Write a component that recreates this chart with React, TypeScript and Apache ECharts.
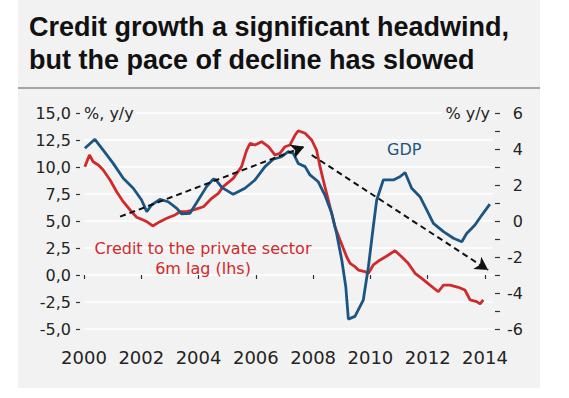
import React, { useEffect, useRef } from "react";
import * as echarts from "echarts";

const titleLines = ["Credit growth a significant headwind,", "but the pace of decline has slowed"];
const yearTicks = [2000, 2002, 2004, 2006, 2008, 2010, 2012, 2014];

const creditYears = [
  2000.03, 2000.19, 2000.32, 2000.5, 2000.67, 2000.91, 2001.14, 2001.37, 2001.61, 2001.84,
  2002.07, 2002.19, 2002.4, 2002.65, 2002.89, 2003.18, 2003.35, 2003.59, 2003.88, 2004.17,
  2004.46, 2004.69, 2004.86, 2005.21, 2005.5, 2005.68, 2005.8, 2005.97, 2006.2, 2006.44,
  2006.67, 2006.84, 2007.02, 2007.19, 2007.37, 2007.48, 2007.72, 2007.95, 2008.12, 2008.24,
  2008.41, 2008.59, 2008.76, 2008.94, 2009.17, 2009.29, 2009.46, 2009.58, 2009.81, 2009.93,
  2010.1, 2010.34, 2010.63, 2010.86, 2011.09, 2011.32, 2011.56, 2011.79, 2012.08, 2012.37,
  2012.55, 2012.78, 2013.07, 2013.3, 2013.48, 2013.71, 2013.83, 2013.94,
];
const creditValues = [
  10.03, 11.11, 10.49, 10.19, 9.72, 8.8, 7.71, 6.79, 6.02, 5.34,
  5.09, 4.94, 4.54, 4.94, 5.25, 5.56, 5.86, 5.86, 6.08, 6.32,
  7.1, 7.56, 8.18, 8.95, 10.03, 11.57, 12.19, 12.04, 12.34, 11.88,
  11.11, 11.27, 11.88, 12.04, 12.96, 13.36, 13.12, 12.5, 11.57, 10.03,
  8.18, 6.32, 4.47, 3.24, 1.69, 1.08, 0.77, 0.46, 0.31, 0.16,
  0.93, 1.39, 1.85, 2.25, 1.69, 1.08, 0.16, -0.31, -0.93, -1.55,
  -0.93, -0.93, -1.14, -1.39, -2.31, -2.47, -2.68, -2.31,
];

const gdpYears = [
  2000.03, 2000.38, 2000.67, 2001.02, 2001.37, 2001.72, 2002.01, 2002.19, 2002.36, 2002.65,
  2002.94, 2003.24, 2003.41, 2003.7, 2003.99, 2004.28, 2004.51, 2004.6, 2004.81, 2005.21,
  2005.62, 2005.97, 2006.32, 2006.61, 2006.9, 2007.13, 2007.31, 2007.48, 2007.72, 2007.89,
  2008.18, 2008.41, 2008.65, 2008.82, 2009.0, 2009.14, 2009.23, 2009.46, 2009.75, 2009.93,
  2010.1, 2010.22, 2010.45, 2010.8, 2011.03, 2011.21, 2011.44, 2011.73, 2011.97, 2012.2,
  2012.55, 2012.9, 2013.19, 2013.36, 2013.65, 2013.89, 2014.17,
];
const gdpValues = [
  4.04, 4.54, 3.94, 3.2, 2.37, 1.82, 1.17, 0.52, 0.89, 1.2,
  1.07, 0.7, 0.39, 0.43, 1.17, 1.91, 2.32, 2.3, 1.87, 1.48,
  1.82, 2.28, 3.02, 3.43, 3.57, 3.85, 3.76, 3.2, 3.02, 2.56,
  2.18, 1.44, 0.43, -0.69, -2.17, -3.65, -5.45, -5.3, -4.4, -2.54,
  -0.32, 1.17, 2.28, 2.28, 2.46, 2.69, 1.82, 1.35, 0.61, -0.13,
  -0.59, -0.96, -1.15, -0.69, -0.22, 0.33, 0.94,
];

// trend arrows in data units (left axis)
const trendUp = [[2001.26, 5.4], [2007.69, 11.88]];
const trendDown = [[2007.95, 11.11], [2014.11, 0.46]];

const RED = "#cf2a2c";
const BLUE = "#1c5582";
const BG = "#f2f2f2";
const AXIS_TXT = "#242424";
const FONT = "DejaVu Sans";

export default function App() {
  const ref = useRef<HTMLDivElement>(null);
  useEffect(() => {
    document.body.style.margin = "0";
    const chart = echarts.init(ref.current!, null, { renderer: "svg" });
    const credit = creditYears.map((x, i) => [x, creditValues[i]]);
    const gdp = gdpYears.map((x, i) => [x, gdpValues[i]]);
    chart.setOption({
      animation: false,
      backgroundColor: "#ffffff",
      title: {
        text: titleLines.join("\n"),
        left: 24,
        top: 5,
        textStyle: {
          fontFamily: "Liberation Sans",
          fontWeight: "bold",
          fontSize: 27,
          lineHeight: 33,
          color: "#111111",
        },
      },
      graphic: [
        { type: "rect", z: -10, shape: { x: 18, y: 0, width: 522, height: 388 }, style: { fill: BG } },
        { type: "line", z: 1, shape: { x1: 18, y1: 88, x2: 540, y2: 88 }, style: { stroke: "#8c8c8c", lineWidth: 1.5 } },
        { type: "rect", z: 20, shape: { x: 82, y: 104, width: 54, height: 18 }, style: { fill: BG } },
        { type: "text", z: 21, x: 84, y: 113, style: { text: "%, y/y", fontFamily: FONT, fontSize: 16, fill: AXIS_TXT, verticalAlign: "middle", align: "left" } },
        { type: "rect", z: 20, shape: { x: 442, y: 104, width: 51, height: 18 }, style: { fill: BG } },
        { type: "text", z: 21, x: 490, y: 113, style: { text: "% y/y", fontFamily: FONT, fontSize: 16, fill: AXIS_TXT, verticalAlign: "middle", align: "right" } },
        { type: "text", z: 21, x: 387, y: 149, style: { text: "GDP", fontFamily: FONT, fontSize: 16, fill: BLUE, verticalAlign: "middle", align: "left" } },
        { type: "text", z: 21, x: 203, y: 258, style: { text: "Credit to the private sector\n6m lag (lhs)", fontFamily: FONT, fontSize: 16, lineHeight: 20, fill: RED, verticalAlign: "middle", align: "center" } },
      ],
      grid: { left: 84, right: 76, top: 113, bottom: 69 },
      xAxis: {
        type: "value",
        min: 2000,
        max: 2014.28,
        offset: 12,
        axisLine: { show: false },
        axisTick: { show: true, length: 4, customValues: yearTicks, lineStyle: { color: "#333", width: 1.2 } },
        axisLabel: { customValues: yearTicks, formatter: (v: number) => String(v), fontFamily: FONT, fontSize: 18, color: AXIS_TXT, margin: 7 },
        splitLine: { show: false },
      },
      yAxis: [
        {
          type: "value",
          min: -5,
          max: 15,
          interval: 2.5,
          offset: 4,
          axisLine: { show: false },
          axisTick: { show: true, length: 4, lineStyle: { color: "#333", width: 1.2 } },
          axisLabel: {
            formatter: (v: number) => v.toFixed(1).replace(".", ","),
            fontFamily: FONT,
            fontSize: 16,
            color: AXIS_TXT,
            margin: 9,
          },
          splitLine: { show: true, lineStyle: { color: "#ffffff", width: 1.5 } },
        },
        {
          type: "value",
          position: "right",
          min: -6,
          max: 6,
          interval: 2,
          offset: 2,
          axisLine: { show: false },
          axisTick: { show: true, length: 5, lineStyle: { color: "#333", width: 1.2 } },
          minorTick: { show: true, splitNumber: 2, length: 5, lineStyle: { color: "#333", width: 1.2 } },
          axisLabel: { fontFamily: FONT, fontSize: 16, color: AXIS_TXT, align: "right", margin: 28 },
          splitLine: { show: false },
        },
      ],
      series: [
        {
          name: "Credit to the private sector, 6m lag (lhs)",
          type: "line",
          yAxisIndex: 0,
          data: credit,
          showSymbol: false,
          lineStyle: { color: RED, width: 2.8 },
          z: 2,
        },
        {
          name: "GDP",
          type: "line",
          yAxisIndex: 1,
          data: gdp,
          showSymbol: false,
          lineStyle: { color: BLUE, width: 2.8 },
          z: 3,
        },
        {
          name: "trend",
          type: "line",
          yAxisIndex: 0,
          data: [],
          z: 5,
          markLine: {
            silent: true,
            symbol: ["none", "arrow"],
            symbolSize: [11, 13],
            label: { show: false },
            lineStyle: { color: "#111", type: [6, 4], width: 2 },
            data: [
              [{ coord: trendUp[0] }, { coord: trendUp[1] }],
              [{ coord: trendDown[0] }, { coord: trendDown[1] }],
            ],
          },
        },
      ],
    });
    return () => chart.dispose();
  }, []);
  return <div ref={ref} style={{ width: 569, height: 398 }} />;
}
